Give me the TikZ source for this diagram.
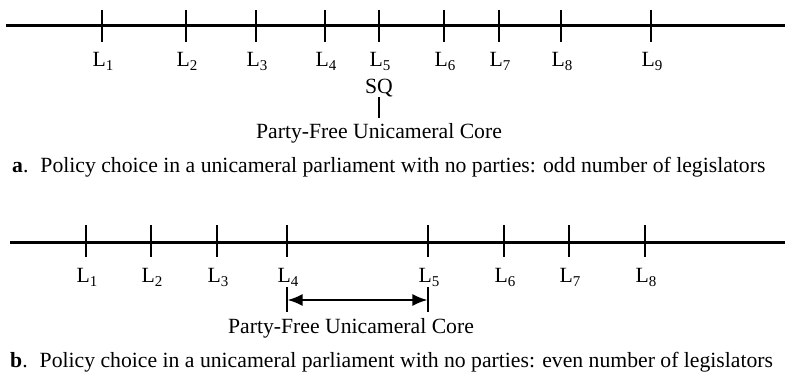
\documentclass[tikz,border=0pt]{standalone}
\usepackage{fontspec}
\setmainfont{Liberation Serif}
\usetikzlibrary{arrows.meta}
\begin{document}
\begin{tikzpicture}[x=1pt,y=-1pt,
  axis/.style={line width=3pt},
  tickmark/.style={line width=2pt},
  lab/.style={font=\fontsize{21.7}{24}\selectfont, inner sep=0pt},
  leg/.style={lab, anchor=base},
  caption/.style={lab, anchor=base west},
  core/.style={line width=1.8pt, {Latex[length=15pt,width=12pt]}-{Latex[length=15pt,width=12pt]}}]
\useasboundingbox (0,0) rectangle (785,372);
\newcommand{\Lsub}[1]{L\raisebox{-4pt}{\fontsize{15}{15}\selectfont #1}}

% panel a: odd number of legislators
\draw[axis] (6,25) coordinate (a0) -- (785,25) coordinate (a1);
\foreach \i/\x in {1/102,2/186,3/256,4/325,5/379,6/444,7/499,8/561,9/651}{
  \draw[tickmark] (\x,10) coordinate (at\i) -- (\x,42) coordinate (ab\i);
  \node[leg] (aL\i) at (\x+1,66) {\Lsub{\i}};
}
\node[leg] (sq) at (379,93) {SQ};
\draw[line width=1.1pt] (379,97) coordinate (sqt) -- (379,118) coordinate (sqb);
\node[leg] (acore) at (379,138) {Party-Free Unicameral Core};
\node[caption] (acap) at (12,172) {\textbf{a}.\hspace{12pt}Policy choice in a unicameral parliament with no parties: odd number of legislators};

% panel b: even number of legislators
\draw[axis] (10,242) coordinate (b0) -- (785,242) coordinate (b1);
\foreach \i/\x in {1/86,2/151,3/217,4/287,5/428,6/504,7/569,8/645}{
  \draw[tickmark] (\x,225) coordinate (bt\i) -- (\x,257) coordinate (bb\i);
  \node[leg] (bL\i) at (\x+1,282) {\Lsub{\i}};
}
\draw[line width=1.2pt] (287,287) coordinate (cl1) -- (287,312) coordinate (cl2);
\draw[line width=1.2pt] (428,287) coordinate (cr1) -- (428,312) coordinate (cr2);
\coordinate (cl) at (287.6,300);
\coordinate (cr) at (427.4,300);
\draw[core] (cl) -- (cr);
\node[leg] (bcore) at (351,333) {Party-Free Unicameral Core};
\node[caption] (bcap) at (10,367) {\textbf{b}.\hspace{12pt}Policy choice in a unicameral parliament with no parties: even number of legislators};
\end{tikzpicture}
\end{document}
